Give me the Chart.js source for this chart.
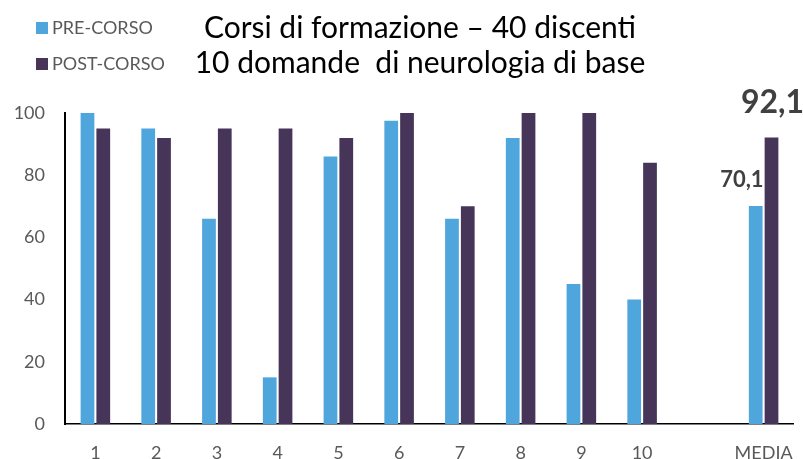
<!DOCTYPE html>
<html>
<head>
<meta charset="utf-8">
<script src="https://cdn.jsdelivr.net/npm/chart.js@4"></script>
<style>
  html, body { margin: 0; padding: 0; background: #fff; }
  .wrap { position: relative; width: 803px; height: 459px; font-family: Lato, "Open Sans", sans-serif; }
  canvas { position: absolute; left: 0; top: 0; }
  .title { position: absolute; left: 160px; width: 520px; text-align: center; font-size: 30px; color: #000; line-height: 1; }
  .legend { position: absolute; left: 36px; font-size: 18px; color: #595959; line-height: 1; }
  .legend span { display: inline-block; width: 12px; height: 12px; margin-right: 4px; vertical-align: 0px; }
</style>
</head>
<body>
<div class="wrap">
  <canvas id="chart" width="803" height="459"></canvas>
  <div class="legend" style="top:18px"><span style="background:#4EA6DC"></span>PRE-CORSO</div>
  <div class="legend" style="top:54px"><span style="background:#463558"></span>POST-CORSO</div>
  <div class="title" style="top:11px">Corsi di formazione – 40 discenti</div>
  <div class="title" style="top:46px">10 domande&nbsp; di neurologia di base</div>
</div>
<script>
const categories = ["1", "2", "3", "4", "5", "6", "7", "8", "9", "10", "", "MEDIA"];
const preCorso = [100, 95, 66, 15, 86, 97.5, 66, 92, 45, 40, null, 70.1];
const postCorso = [95, 92, 95, 95, 92, 100, 70, 100, 100, 84, null, 92.1];
const yTicks = [0, 20, 40, 60, 80, 100];

// only the MEDIA bars get a value label
const mediaLabels = {
  id: "mediaLabels",
  afterDatasetsDraw(chart) {
    const ctx = chart.ctx;
    const i = categories.indexOf("MEDIA");
    const fmt = (v) => String(v).replace(".", ",");
    ctx.save();
    ctx.fillStyle = "#404040";
    ctx.textBaseline = "middle";

    const pre = chart.getDatasetMeta(0).data[i];
    ctx.font = "bold 22px Lato, 'Open Sans', sans-serif";
    ctx.textAlign = "right";
    ctx.fillText(fmt(preCorso[i]), pre.x + pre.width / 2 + 1, pre.y - 26);

    const post = chart.getDatasetMeta(1).data[i];
    ctx.font = "bold 32px Lato, 'Open Sans', sans-serif";
    ctx.textAlign = "center";
    ctx.fillText(fmt(postCorso[i]), post.x + 1, post.y - 35);
    ctx.restore();
  }
};

new Chart(document.getElementById("chart").getContext("2d"), {
  type: "bar",
  data: {
    labels: categories,
    datasets: [
      { label: "PRE-CORSO", data: preCorso, backgroundColor: "#4EA6DC", borderWidth: 0 },
      { label: "POST-CORSO", data: postCorso, backgroundColor: "#463558", borderWidth: 0 }
    ]
  },
  options: {
    responsive: false,
    animation: false,
    layout: { padding: { top: 113, left: 10, right: 9, bottom: 0 } },
    datasets: { bar: { categoryPercentage: 0.52, barPercentage: 0.87 } },
    plugins: { legend: { display: false }, tooltip: { enabled: false } },
    scales: {
      x: {
        grid: { display: false },
        border: { display: true, color: "#000", width: 1.5 },
        afterFit: (axis) => { axis.height = 35; },
        ticks: { color: "#595959", font: { size: 18, family: "Lato, 'Open Sans', sans-serif" }, padding: 10, autoSkip: false, maxRotation: 0 }
      },
      y: {
        min: 0,
        max: 100,
        afterBuildTicks: (axis) => { axis.ticks = yTicks.map((v) => ({ value: v })); },
        afterFit: (axis) => { axis.width = 55; },
        grid: { display: false },
        border: { display: true, color: "#000", width: 2 },
        ticks: { color: "#595959", font: { size: 18, family: "Lato, 'Open Sans', sans-serif" }, padding: 12 }
      }
    }
  },
  plugins: [mediaLabels]
});
</script>
</body>
</html>
